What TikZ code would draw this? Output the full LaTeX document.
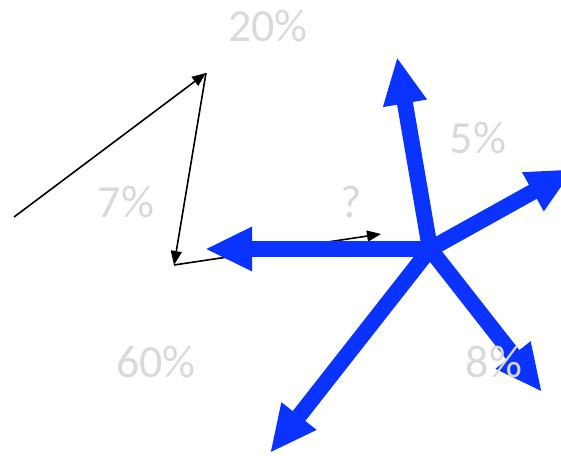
\documentclass[tikz,border=0pt]{standalone}
\usepackage{fontspec}
\setmainfont{Carlito}
\usepackage{xcolor}
\usetikzlibrary{arrows.meta, positioning}
\definecolor{vecblue}{HTML}{0A33FF}
\definecolor{softgray}{HTML}{D9D9D9}

\begin{document}
\begin{tikzpicture}[
x=1pt, y=-1pt,
every node/.style={inner sep=0pt, font=\fontsize{46}{52}\selectfont},
arrow/.style={-{Triangle[length=14pt,width=11pt]}, line width=1.6pt},
bigarrow/.style={-{Triangle[length=47pt,width=41pt]}, line width=16pt, draw=vecblue}
]
\useasboundingbox (0,0) rectangle (561,455);
\clip (0,0) rectangle (561,455);

% Define styles
\tikzstyle{share} = [text=softgray]

% Points of the walk
\coordinate (p0) at (14,217);
\coordinate (p1) at (206,73);
\coordinate (p2) at (174,265);
\coordinate (p3) at (381,234);

% Hub and tips
\coordinate (hub) at (430,249);
\coordinate (up) at (397,57);
\coordinate (upright) at (574,169);
\coordinate (left) at (205,249);
\coordinate (downleft) at (270,453);
\coordinate (downright) at (542,392);

% Nodes
\node (twenty) [share] at (268,26) {20\%};
\node (seven) [share] at (126,202) {7\%};
\node (query) [share] at (351,202) {?};
\node (five) [share] at (478,138) {5\%};
\node (sixty) [share] at (156,362) {60\%};

% Arrows
\draw [arrow] (p0) -- (p1);
\draw [arrow] (p1) -- (p2);
\draw [arrow] (p2) -- (p3);

\draw [bigarrow] (hub) -- (up);
\draw [bigarrow] (hub) -- (upright);
\draw [bigarrow] (hub) -- (left);
\draw [bigarrow] (hub) -- (downleft);
\draw [bigarrow] (hub) -- (downright);

\node (eight) [share] at (494,362) {8\%};

\end{tikzpicture}
\end{document}
